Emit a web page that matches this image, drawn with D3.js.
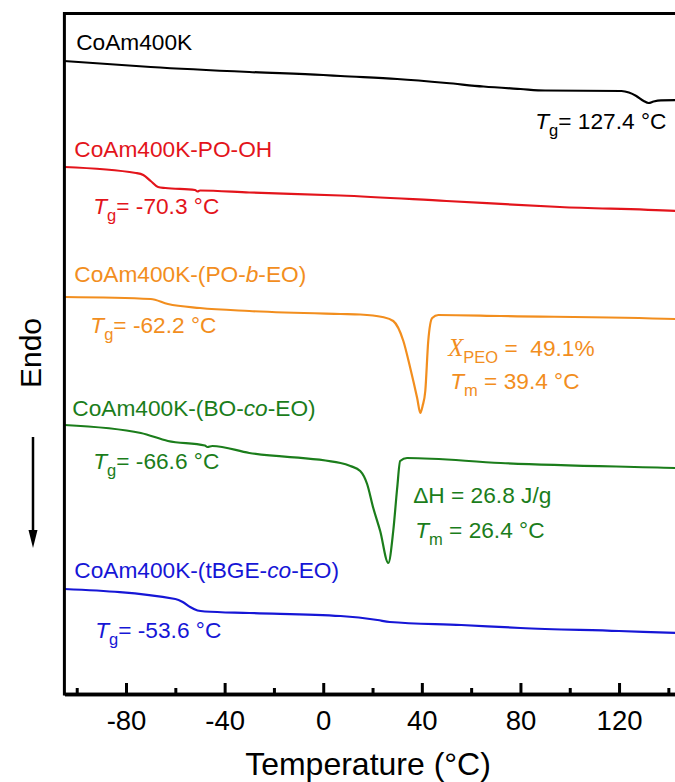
<!DOCTYPE html>
<html><head><meta charset="utf-8">
<script src="https://cdn.jsdelivr.net/npm/d3@7"></script>
<style>
body{margin:0;background:#fff;}
text{font-family:"Liberation Sans",Arial,sans-serif;white-space:pre;}
</style></head>
<body>
<svg id="chart" width="675" height="782"></svg>
<script>
// ---- data (temperature in °C, heat flow in arbitrary offset units) ----
const xTicksMajor = [-80, -40, 0, 40, 80, 120];
const xTicksMinor = [-100, -60, -20, 20, 60, 100, 140];

const tBlack  = [-105,-70,-30,0,7,30,50,65,80,90,121,124,127,130,132,134,137,150];
const hfBlack = [63.3,62.7,62.2,61.9,61.8,61.5,61.1,60.75,60.5,60.35,60.3,60.15,59.8,59.3,59.1,59.25,59.37,59.4];

const tRed  = [-105,-76,-73,-70,-67,-64,-52,-51,-50,-30,7,50,96,143,150];
const hfRed = [52.7,52.1,51.9,51.3,50.7,50.6,50.4,50.25,50.35,50.15,49.85,49.3,48.7,48.3,48.2];

const tOrange  = [-105,-70,-63,-50,-30,7,15,24,28.4,32.5,35.3,38.1,39.4,40.3,41.4,42.6,44.2,46.7,72,143,150];
const hfOrange = [39.7,39.5,39.0,38.6,38.3,38.0,37.95,37.7,37.3,35.3,32.6,29.6,28.1,28.8,30.3,35.3,37.6,37.9,37.8,37.5,37.45];

const tGreen  = [-105,-74,-63,-48,-47,-45,-30,7,11,15,17.8,20.3,23.1,26.4,28.4,30,31.2,34,72,143,150];
const hfGreen = [26.9,26.1,25.3,24.85,24.7,24.8,24.1,23.1,22.8,22.3,21.0,18.6,16.3,13.1,16.3,20.6,23.3,23.6,23.1,22.6,22.55];

const tBlue  = [-105,-60,-57,-54,-51,-48,-30,7,22,27,56,80,120,143,150];
const hfBlue = [10.5,9.5,9.2,8.7,8.35,8.25,8.1,7.8,7.4,7.2,6.9,6.6,6.3,6.1,6.05];

const seriesNames = ["CoAm400K","CoAm400K-PO-OH","CoAm400K-(PO-b-EO)","CoAm400K-(BO-co-EO)","CoAm400K-(tBGE-co-EO)"];

// ---- layout / style ----
const colors = ["#000000","#e3141b","#f28e1e","#1b7d1b","#1616d6"];
const W = 675, H = 782;
const svg = d3.select("#chart");
const x = d3.scaleLinear().domain([-105, 150]).range([64.4, 693]);
const y = d3.scaleLinear().domain([0, 68.05]).range([694, 13.5]);

const series = [
  {t:tBlack, v:hfBlack}, {t:tRed, v:hfRed}, {t:tOrange, v:hfOrange},
  {t:tGreen, v:hfGreen}, {t:tBlue, v:hfBlue}
];

svg.append("defs").append("clipPath").attr("id","clip")
  .append("rect").attr("x",x(-105)).attr("y",y(68.05)).attr("width",x(150)-x(-105)).attr("height",y(0)-y(68.05));

const line = d3.line().x(d=>x(d[0])).y(d=>y(d[1])).curve(d3.curveMonotoneX);
const g = svg.append("g").attr("clip-path","url(#clip)");
series.forEach((s,i)=>{
  g.append("path").datum(s.t.map((t,j)=>[t,s.v[j]]))
    .attr("d",line).attr("fill","none").attr("stroke",colors[i]).attr("stroke-width",2.2)
    .attr("stroke-linejoin","round");
});

// frame: top border and left axis
svg.append("line").attr("x1",x(-105)).attr("x2",W+5).attr("y1",y(68.05)).attr("y2",y(68.05))
  .attr("stroke","#000").attr("stroke-width",3);
svg.append("line").attr("x1",x(-105)).attr("x2",x(-105)).attr("y1",y(68.05)-1.5).attr("y2",y(0)+1.5)
  .attr("stroke","#000").attr("stroke-width",3);

// bottom axis
const axMinor = d3.axisBottom(x).tickValues(xTicksMinor).tickSizeInner(-6).tickSizeOuter(0).tickFormat("");
const axMajor = d3.axisBottom(x).tickValues(xTicksMajor).tickSizeInner(-11).tickSizeOuter(0).tickPadding(16)
  .tickFormat(d=>d);
const gMin = svg.append("g").attr("transform",`translate(0,${y(0)})`).call(axMinor);
const gMaj = svg.append("g").attr("transform",`translate(0,${y(0)})`).call(axMajor);
[gMin,gMaj].forEach(a=>{
  a.select(".domain").attr("stroke","#000").attr("stroke-width",3.5);
  a.selectAll(".tick line").attr("stroke","#000").attr("stroke-width",3);
});
gMaj.selectAll(".tick text").attr("font-size",27.5).attr("fill","#000")
  .attr("font-family","'Liberation Sans',Arial,sans-serif");

// axis titles
svg.append("text").attr("x",368).attr("y",775).attr("text-anchor","middle")
  .attr("font-size",32).text("Temperature (°C)");
svg.append("text").attr("transform","translate(41,353) rotate(-90)").attr("text-anchor","middle")
  .attr("font-size",30).text("Endo");
// arrow
svg.append("line").attr("x1",33).attr("x2",33).attr("y1",437).attr("y2",535)
  .attr("stroke","#000").attr("stroke-width",2.5);
svg.append("path").attr("d","M28.5,530 L37.5,530 L33,548 Z").attr("fill","#000");

// ---- annotations ----
const fs = 22.7;
function label(tx, vy, color, parts){
  const t = svg.append("text").attr("x",x(tx)).attr("y",y(vy)).attr("fill",color).attr("font-size",fs);
  parts.forEach(p=>{
    const ts = t.append("tspan").text(p.s);
    if(p.it) ts.attr("font-style","italic");
    if(p.serif) ts.attr("font-family","'Liberation Serif','Times New Roman',serif").attr("font-size",fs+2);
    if(p.sub) ts.attr("font-size",16.5).attr("dy",7);
    if(p.up) ts.attr("dy",-7);
  });
}
const nameParts = [
  [{s:"CoAm400K"}],
  [{s:"CoAm400K-PO-OH"}],
  [{s:"CoAm400K-(PO-"},{s:"b",it:true},{s:"-EO)"}],
  [{s:"CoAm400K-(BO-"},{s:"co",it:true},{s:"-EO)"}],
  [{s:"CoAm400K-(tBGE-"},{s:"co",it:true},{s:"-EO)"}]
];
const namePos = [[-100.2,64.4],[-101,53.7],[-101,41.2],[-101.8,27.8],[-101,11.6]];
nameParts.forEach((p,i)=>label(namePos[i][0],namePos[i][1],colors[i],p));

const tgVals = ["127.4","-70.3","-62.2","-66.6","-53.6"];
const tgPos = [[86.0,56.5],[-93.3,48.0],[-94.5,36.1],[-93.3,22.5],[-92.5,5.6]];
tgVals.forEach((v,i)=>label(tgPos[i][0],tgPos[i][1],colors[i],
  [{s:"T",it:true},{s:"g",sub:true},{s:"= "+v+" °C",up:true}]));

label(50.7,33.8,colors[2],[{s:"X",it:true,serif:true},{s:"PEO",sub:true},{s:" =  49.1%",up:true}]);
label(51.5,30.5,colors[2],[{s:"T",it:true},{s:"m",sub:true},{s:" = 39.4 °C",up:true}]);
label(36.5,19.1,colors[3],[{s:"ΔH = 26.8 J/g"}]);
label(37.3,15.6,colors[3],[{s:"T",it:true},{s:"m",sub:true},{s:" = 26.4 °C",up:true}]);
</script>
</body></html>
